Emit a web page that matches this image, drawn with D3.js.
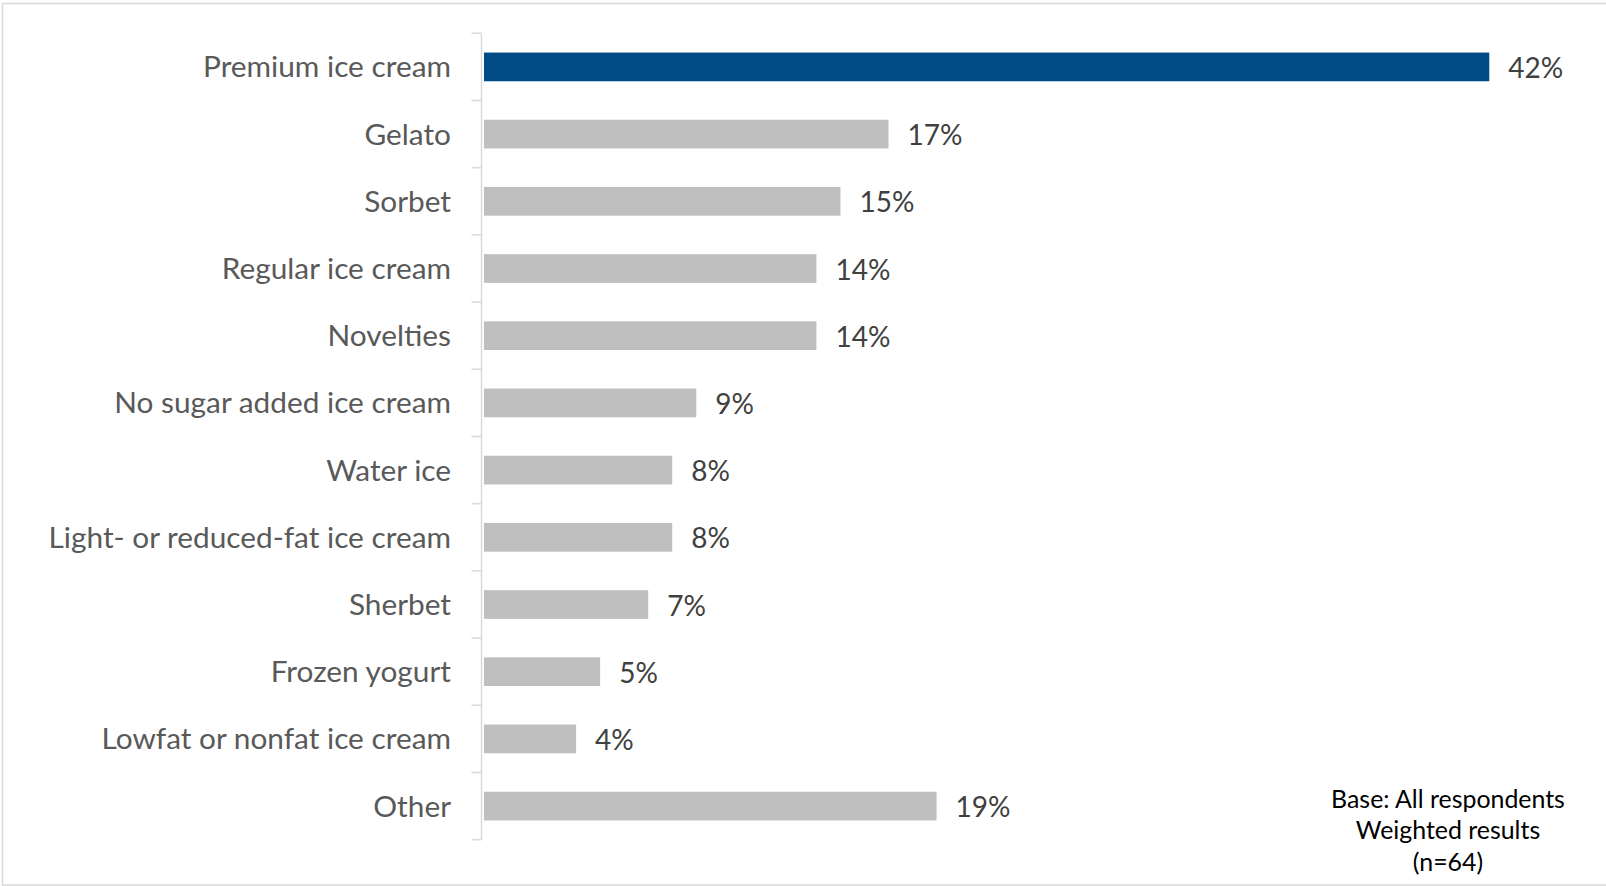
<!DOCTYPE html>
<html>
<head>
<meta charset="utf-8">
<script src="https://cdn.jsdelivr.net/npm/d3@7"></script>
<style>
  html, body { margin: 0; padding: 0; background: #fff; }
  svg { display: block; }
  text { font-family: Lato, "Open Sans", sans-serif; }
</style>
</head>
<body>
<svg id="chart" width="1606" height="886"></svg>
<script>
const categories = [
  "Premium ice cream", "Gelato", "Sorbet", "Regular ice cream", "Novelties",
  "No sugar added ice cream", "Water ice", "Light- or reduced-fat ice cream",
  "Sherbet", "Frozen yogurt", "Lowfat or nonfat ice cream", "Other"
];
const values = [42, 17, 15, 14, 14, 9, 8, 8, 7, 5, 4, 19];
const highlighted = ["Premium ice cream"];
const footnoteLines = ["Base: All respondents", "Weighted results", "(n=64)"];

const svg = d3.select("#chart");
const W = 1606, H = 886;

// frame
svg.append("rect")
  .attr("x", 2.5).attr("y", 3.5)
  .attr("width", W + 10).attr("height", 881.5)
  .attr("fill", "#fff").attr("stroke", "#d9d9d9").attr("stroke-width", 1.5);

const y = d3.scaleBand()
  .domain(categories)
  .range([33.3, 839.7])
  .paddingInner(0.573)
  .paddingOuter(0.2865);

const x = d3.scaleLinear()
  .domain([0, 45])
  .range([480, 480 + 24.03 * 45]);

const axisX = 481.5;
const gap = 4;

// axis line and band-boundary ticks
svg.append("line")
  .attr("x1", axisX).attr("x2", axisX)
  .attr("y1", y.range()[0]).attr("y2", y.range()[1])
  .attr("stroke", "#d9d9d9").attr("stroke-width", 1.5);

const boundaries = d3.range(categories.length + 1).map(i => y.range()[0] + i * y.step());
svg.selectAll("line.tick").data(boundaries).join("line")
  .attr("class", "tick")
  .attr("x1", axisX - 10).attr("x2", axisX)
  .attr("y1", d => d).attr("y2", d => d)
  .attr("stroke", "#d9d9d9").attr("stroke-width", 1.5);

const data = categories.map((c, i) => ({ c, v: values[i] }));

svg.selectAll("rect.bar").data(data).join("rect")
  .attr("class", "bar")
  .attr("x", x(0) + gap)
  .attr("y", d => y(d.c))
  .attr("width", d => x(d.v) - x(0) - gap)
  .attr("height", y.bandwidth())
  .attr("fill", d => highlighted.includes(d.c) ? "#004a85" : "#bfbfbf");

// category labels
svg.selectAll("text.cat").data(data).join("text")
  .attr("class", "cat")
  .attr("x", axisX - 30.5)
  .attr("y", d => y(d.c) + y.bandwidth() / 2 + 10.5)
  .attr("text-anchor", "end")
  .attr("font-size", 29.8)
  .attr("fill", "#595959")
  .text(d => d.c);

// value labels
svg.selectAll("text.val").data(data).join("text")
  .attr("class", "val")
  .attr("x", d => x(d.v) + 19)
  .attr("y", d => y(d.c) + y.bandwidth() / 2 + 11)
  .attr("font-size", 28)
  .attr("fill", "#404040")
  .text(d => d.v + "%");

// footnote
svg.selectAll("text.note").data(footnoteLines).join("text")
  .attr("class", "note")
  .attr("x", 1448)
  .attr("y", (d, i) => 807.5 + i * 31.5)
  .attr("text-anchor", "middle")
  .attr("font-size", 24.9)
  .attr("fill", "#000")
  .text(d => d);
</script>
</body>
</html>
